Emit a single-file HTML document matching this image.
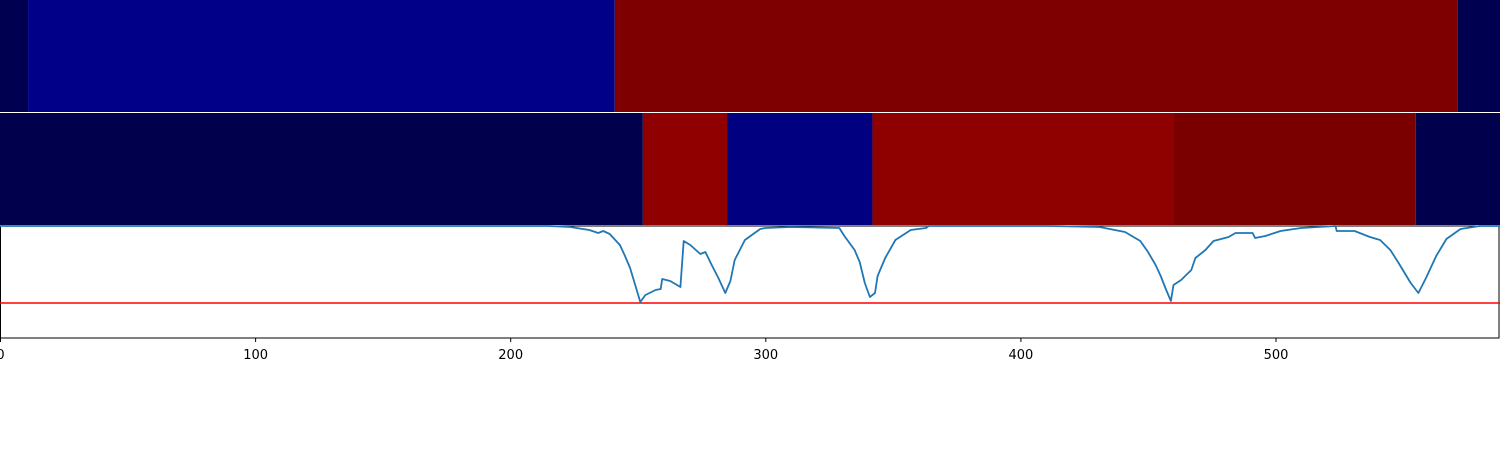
<!DOCTYPE html>
<html><head><meta charset="utf-8"><style>
html,body{margin:0;padding:0;background:#fff;width:1500px;height:450px;overflow:hidden}
svg{display:block}
text{font-family:"DejaVu Sans","Liberation Sans",sans-serif;font-size:13px}
</style></head><body>
<svg id="chart" width="1500" height="450" xmlns="http://www.w3.org/2000/svg"></svg>
<script>
const xMax = 588;
const row1Starts = [0, 11, 241, 571.4];
const row1Colors = ["#000050", "#000088", "#7f0000", "#000050"];
const row2Starts = [0, 252, 285, 342, 460, 555];
const row2Colors = ["#00004c", "#900000", "#000080", "#8f0000", "#7a0000", "#00004c"];
const lineX = [0,100,200,215,223.5,231,234.5,236.5,239,243,245,247,249,251,253,257,259,259.6,262.7,266.7,268,270.6,274.5,276.5,279,281.6,284.3,286.3,288,292,298,300,310,329,331,335,337,339,341,343,344,347,351,357,363,364,412,431,441,447,450,453,455,457,459,460,463,467,468.6,472.5,475.7,481.6,484.3,491,492,496,502,510,523.5,524,531,537,541,545,548,553,556,559,563,567,572.5,580,588];
const lineY = [226,226,226,226,227,230,233,231,234,245,256,268,285,302,295,290,289,279,281,287,241,245,254,252,265,278,293,281,260,240,229,228,227,228,236,250,262,283,297,293,276,258,240,230,228,226,226,227,232,241,252,265,276,289,301,285,280,270,258,250,241,237,233,233,238,236,231,228,226,231,231,237,240,250,262,283,293,278,256,239,229,226,226].map(y => (338 - y) / 112);
const threshold = 0.3125;
const xTicks = [0, 100, 200, 300, 400, 500];

const svg = document.getElementById('chart');
const NS = "http://www.w3.org/2000/svg";
const W = 1500;
const xs = v => v / xMax * W;
const ys = v => 338 - v * 112;
function mk(tag, attrs) { const e = document.createElementNS(NS, tag); for (const k in attrs) e.setAttribute(k, attrs[k]); svg.appendChild(e); return e; }

function drawRow(starts, colors, y0, h, name) {
  for (let i = 0; i < starts.length; i++) {
    const x0 = xs(starts[i]), x1 = i + 1 < starts.length ? xs(starts[i + 1]) : W;
    const r = mk('rect', { x: x0, y: y0, width: x1 - x0, height: h, fill: colors[i] });
    
    
  }
}
drawRow(row1Starts, row1Colors, 0, 112, 'row1');
drawRow(row2Starts, row2Colors, 113, 112, 'row2');

const frame = mk('rect', { x: 0.5, y: 226, width: 1498.5, height: 112, fill: 'none', stroke: '#000', 'stroke-width': 1 });



const th = mk('line', { x1: 0, x2: W, y1: ys(threshold), y2: ys(threshold), stroke: '#ff0000', 'stroke-width': 1.5 });



const pts = lineX.map((x, i) => xs(x).toFixed(1) + ',' + ys(lineY[i]).toFixed(1)).join(' ');
const pl = mk('polyline', { points: pts, fill: 'none', stroke: '#1f77b4', 'stroke-width': 1.8, 'stroke-linejoin': 'round' });



xTicks.forEach(t => {
  const tk = mk('line', { x1: xs(t) + 0.5, x2: xs(t) + 0.5, y1: 338, y2: 342, stroke: '#000', 'stroke-width': 1 });
  
  
  const tx = mk('text', { x: xs(t) + 0.5, y: 359, 'text-anchor': 'middle', fill: '#000' });
  tx.textContent = t;
  
  
});
</script>
</body></html>
